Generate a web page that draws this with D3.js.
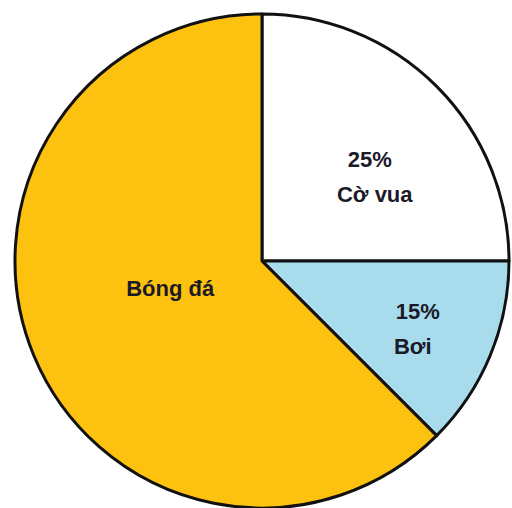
<!DOCTYPE html>
<html>
<head>
<meta charset="utf-8">
<script src="https://cdn.jsdelivr.net/npm/d3@7"></script>
<style>
  html, body { margin: 0; padding: 0; background: #ffffff; }
  svg { display: block; }
  text { font-family: "Liberation Sans", Arial, sans-serif; font-weight: bold; }
</style>
</head>
<body>
<svg id="chart" width="512" height="508"></svg>
<script>
// Data (angles as drawn in the picture; labels as printed)
const categories = ["Cờ vua", "Bơi", "Bóng đá"];
const values = [25, 12.5, 62.5];
const percentLabels = ["25%", "15%", ""];
const colors = ["#ffffff", "#a8dcec", "#fdc20f"];

// Layout
const W = 512, H = 508;
const cx = 262, cy = 261, R = 247;
// label anchor placement in polar terms (angle in degrees clockwise from top, radius)
const labelPolar = [
  { a: 55, r: 134 },
  { a: 116, r: 170 },
  { a: 253, r: 96 }
];

const svg = d3.select("#chart");
const g = svg.append("g").attr("transform", `translate(${cx},${cy})`);

const pie = d3.pie().sort(null).value(d => d.v);
const arcs = pie(categories.map((c, i) => ({ c, v: values[i], p: percentLabels[i], col: colors[i] })));
const arc = d3.arc().innerRadius(0).outerRadius(R);

g.selectAll("path.slice")
  .data(arcs)
  .enter().append("path")
  .attr("class", "slice")
  .attr("d", arc)
  .attr("fill", d => d.data.col)
  .attr("stroke", "#111111")
  .attr("stroke-width", 3)
  .attr("stroke-linejoin", "round");

const textColor = "#1a1a28";
arcs.forEach((d, i) => {
  const lp = labelPolar[i];
  const ang = lp.a * Math.PI / 180;
  const x = lp.r * Math.sin(ang);
  const y = -lp.r * Math.cos(ang);
  const t = g.append("text")
    .attr("text-anchor", "middle")
    .attr("fill", textColor)
    .attr("font-size", 22);
  if (d.data.p) {
    t.append("tspan").attr("x", x + (i === 0 ? -2 : 3)).attr("y", y - 17).text(d.data.p);
    t.append("tspan").attr("x", x + (i === 0 ? 3 : -2)).attr("y", y + 18).text(d.data.c);
  } else {
    t.append("tspan").attr("x", x).attr("y", y + 7).text(d.data.c);
  }
});
</script>
</body>
</html>
